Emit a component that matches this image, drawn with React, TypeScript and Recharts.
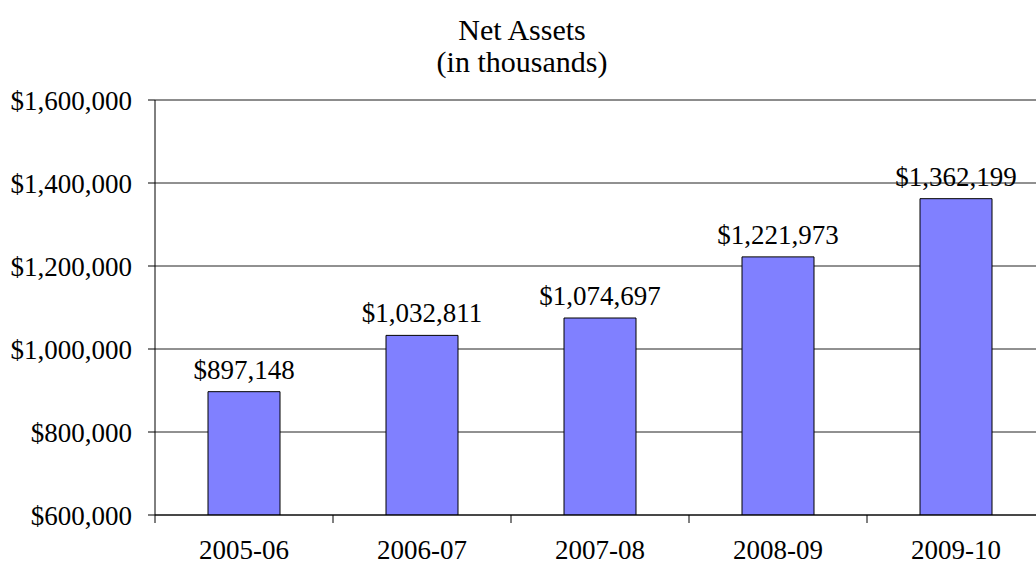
import { BarChart, Bar, XAxis, YAxis, CartesianGrid, LabelList, ReferenceLine } from 'recharts'

const years = ['2005-06', '2006-07', '2007-08', '2008-09', '2009-10']
const netAssets = [897148, 1032811, 1074697, 1221973, 1362199]
const yTicks = [600000, 800000, 1000000, 1200000, 1400000, 1600000]
const titleLines = ['Net Assets', '(in thousands)']

const data = years.map((year, i) => ({ year, value: netAssets[i] }))

const FONT = "'Liberation Serif', 'Times New Roman', 'DejaVu Serif', serif"
const CHART_W = 1060
const CHART_H = 566
const MARGIN = { top: 100, right: 15, left: 0, bottom: 0 }
const Y_W = 155
const X_H = 51
const BAND = (CHART_W - MARGIN.left - MARGIN.right - Y_W) / years.length

const money = (v: number) => '$' + Number(v).toLocaleString('en-US')

// category labels sit in the middle, tick marks sit on the band edges
const CategoryTick = ({ x, y, payload }: any) => (
  <g>
    <line x1={x - BAND / 2} x2={x - BAND / 2} y1={y} y2={y + 8} stroke="#000" />
    <text x={x} y={y + 44} textAnchor="middle" fill="#000" style={{ fontSize: 27, fontFamily: FONT }}>
      {payload.value}
    </text>
  </g>
)

export default function App() {
  return (
    <div
      style={{
        position: 'absolute',
        left: 0,
        top: 0,
        width: 1036,
        height: 566,
        overflow: 'hidden',
        background: '#fff',
        fontFamily: FONT,
      }}
    >
      {titleLines.map((t, i) => (
        <div
          key={t}
          style={{
            position: 'absolute',
            left: 0,
            top: 14 + i * 32,
            width: 1044,
            height: 32,
            textAlign: 'center',
            fontSize: 30,
            lineHeight: '32px',
            color: '#000',
            fontFamily: FONT,
          }}
        >
          {t}
        </div>
      ))}
      <BarChart width={CHART_W} height={CHART_H} data={data} margin={MARGIN}>
        <CartesianGrid vertical={false} stroke="#222" />
        <ReferenceLine y={1600000} stroke="#888" />
        <XAxis
          dataKey="year"
          height={X_H}
          interval={0}
          tickLine={false}
          tickSize={0}
          tickMargin={0}
          axisLine={{ stroke: '#000' }}
          tick={<CategoryTick />}
        />
        <YAxis
          width={Y_W}
          type="number"
          domain={[600000, 1600000]}
          ticks={yTicks}
          interval={0}
          allowDataOverflow
          tickFormatter={money}
          tickSize={7}
          tickMargin={16}
          axisLine={{ stroke: '#000' }}
          tickLine={{ stroke: '#000' }}
          tick={{ fill: '#000', fontSize: 27, style: { fontFamily: FONT } }}
        />
        <Bar dataKey="value" fill="#8080ff" stroke="#000" strokeWidth={1} barSize={72} isAnimationActive={false}>
          <LabelList
            dataKey="value"
            position="top"
            offset={13}
            formatter={(v: any) => money(v)}
            fill="#000"
            fontSize={27}
            style={{ fontFamily: FONT }}
          />
        </Bar>
      </BarChart>
    </div>
  )
}
